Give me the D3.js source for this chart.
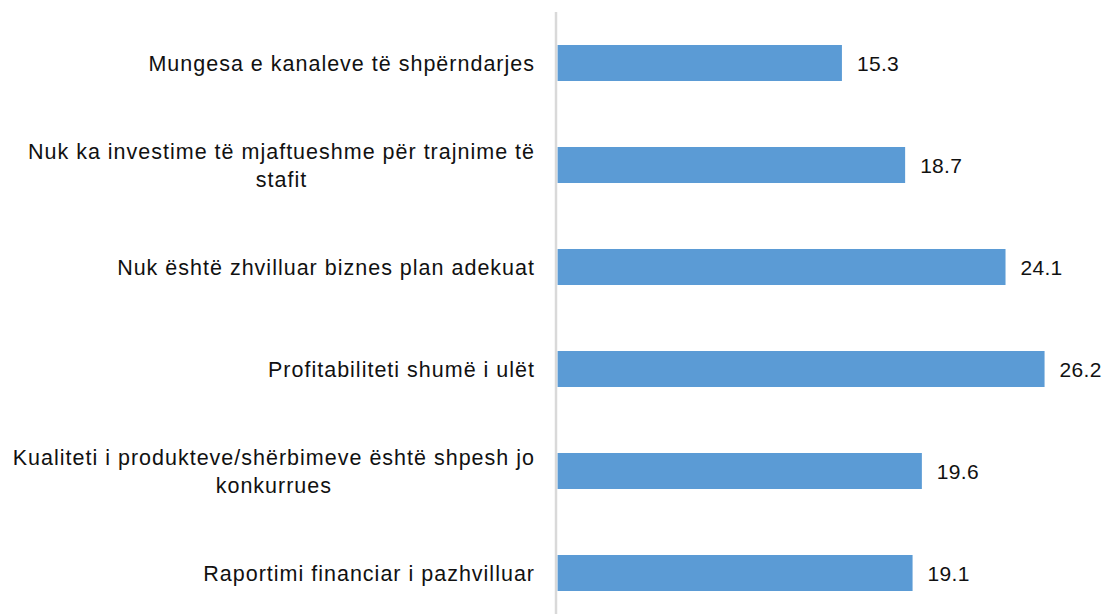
<!DOCTYPE html>
<html>
<head>
<meta charset="utf-8">
<script src="https://cdn.jsdelivr.net/npm/d3@7"></script>
<style>
  body { margin: 0; background: #fff; }
  svg text { font-family: "Liberation Sans", Arial, sans-serif; fill: #111; }
</style>
</head>
<body>
<svg id="chart" width="1109" height="614"></svg>
<script>
// categories, top to bottom ("\n" marks the wrap as in the original)
var categories = [
    'Mungesa e kanaleve të shpërndarjes',
    'Nuk ka investime të mjaftueshme për trajnime të\nstafit',
    'Nuk është zhvilluar biznes plan adekuat',
    'Profitabiliteti shumë i ulët',
    'Kualiteti i produkteve/shërbimeve është shpesh jo\nkonkurrues',
    'Raportimi financiar i pazhvilluar'
];
var values = [15.3, 18.7, 24.1, 26.2, 19.6, 19.1];
var xDomain = [0, 30];

var svg = d3.select('#chart');
var svgHeight = +svg.attr('height');

var rows = categories.map(function (c, i) {
    return { label: c, value: values[i] };
});

var axisX = 556;
var labelRight = 535;

var yScale = d3.scaleBand()
    .domain(categories)
    .range([12, 624])
    .paddingInner(0.647)
    .paddingOuter(0.3235);

var xScale = d3.scaleLinear()
    .domain(xDomain)
    .range([axisX + 1.5, axisX + 1.5 + 18.59 * 30]);

// bars
svg.selectAll('.bar')
    .data(rows)
    .enter()
    .append('rect')
    .attr('class', 'bar')
    .attr('x', xScale(0))
    .attr('y', d => yScale(d.label))
    .attr('width', d => xScale(d.value) - xScale(0))
    .attr('height', yScale.bandwidth())
    .attr('fill', '#5b9bd5');

// vertical category axis line
svg.append('line')
    .attr('x1', axisX).attr('x2', axisX)
    .attr('y1', 12).attr('y2', svgHeight)
    .attr('stroke', '#d9d9d9')
    .attr('stroke-width', 2.5);

// value labels
svg.selectAll('.value-label')
    .data(rows)
    .enter()
    .append('text')
    .attr('class', 'value-label')
    .attr('x', d => xScale(d.value) + 15)
    .attr('y', d => yScale(d.label) + yScale.bandwidth() / 2 + 7.5)
    .style('font-size', '21px')
    .style('letter-spacing', '0.3px')
    .text(d => d.value.toFixed(1));

// category labels, lines centred inside a right-aligned block
var lineGap = 28;
svg.selectAll('.cat-label')
    .data(rows)
    .enter()
    .append('text')
    .attr('class', 'cat-label')
    .style('font-size', '21.5px')
    .style('letter-spacing', '1px')
    .each(function (d) {
        var t = d3.select(this);
        var lines = d.label.split('\n');
        var cy = yScale(d.label) + yScale.bandwidth() / 2;
        var y0 = cy - (lines.length - 1) * lineGap / 2 + 7.5;
        lines.forEach(function (ln, i) {
            t.append('tspan').attr('y', y0 + i * lineGap).text(ln);
        });
        var widths = [];
        t.selectAll('tspan').each(function () { widths.push(this.getComputedTextLength()); });
        var maxW = d3.max(widths);
        var cx = labelRight - maxW / 2;
        t.attr('text-anchor', 'middle');
        t.selectAll('tspan').attr('x', cx);
    });
</script>
</body>
</html>
